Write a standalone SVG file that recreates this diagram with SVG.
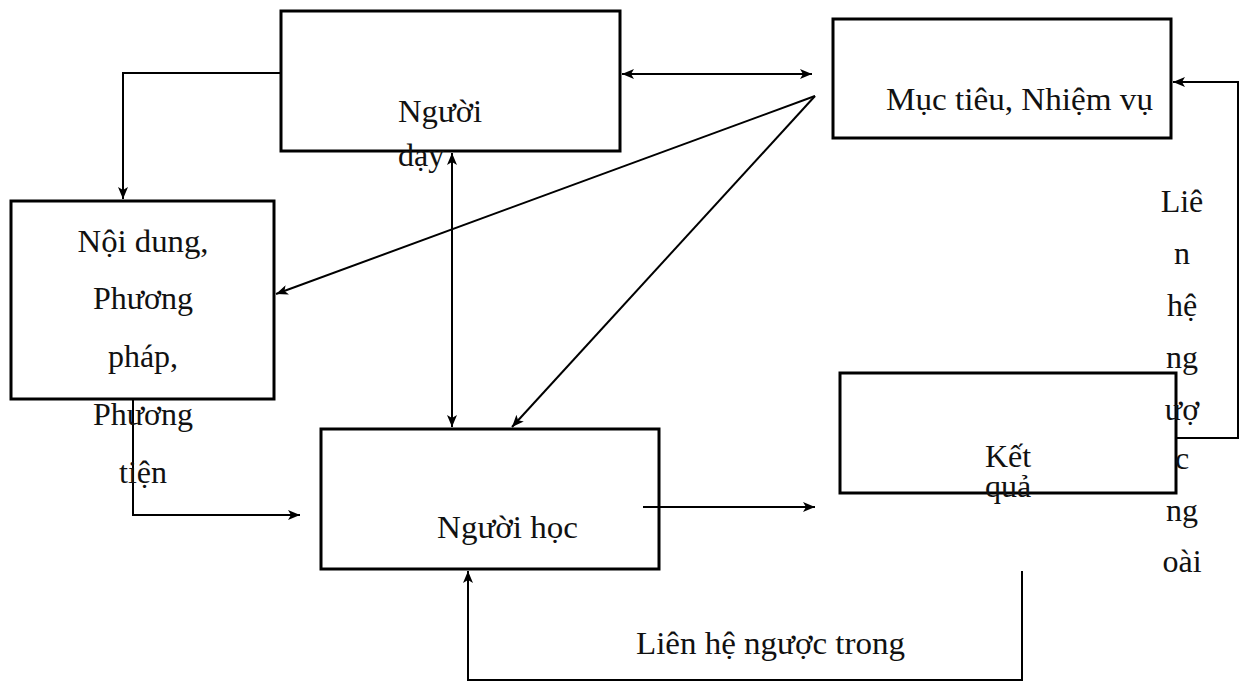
<svg xmlns="http://www.w3.org/2000/svg" width="1239" height="682" viewBox="0 0 1239 682">
<defs>
<marker id="ah" viewBox="0 0 12 10" refX="12" refY="5" markerWidth="12" markerHeight="10" markerUnits="userSpaceOnUse" orient="auto-start-reverse">
<path d="M0,0 L12,5 L0,10 L3,5 Z" fill="#000"/>
</marker>
</defs>
<style>
.box{fill:#fff;stroke:#000;stroke-width:3}
.c{fill:none;stroke:#000;stroke-width:2}
text{font-family:"Liberation Serif","Times New Roman",serif;font-size:32px;fill:#111}
</style>
<rect width="1239" height="682" fill="#fff"/>
<g id="nguoi-day">
<rect class="box" x="281" y="11" width="339" height="140"/>
</g>
<g id="muc-tieu">
<rect class="box" x="833" y="19" width="338" height="119"/>
<text x="886" y="110" textLength="267" lengthAdjust="spacingAndGlyphs">Mục tiêu, Nhiệm vụ</text>
</g>
<g id="noi-dung">
<rect class="box" x="11" y="201" width="263" height="198"/>
</g>
<g id="nguoi-hoc">
<rect class="box" x="321" y="429" width="338" height="140"/>
<text x="437" y="538" textLength="141" lengthAdjust="spacingAndGlyphs">Người học</text>
</g>
<g id="ket-qua">
<rect class="box" x="840" y="373" width="336" height="120"/>
</g>
<g id="connectors">
<path class="c" d="M281,73 H123 V199" marker-end="url(#ah)"/>
<line class="c" x1="622" y1="74" x2="812" y2="74" marker-start="url(#ah)" marker-end="url(#ah)"/>
<line class="c" x1="815" y1="96" x2="276" y2="294" marker-end="url(#ah)"/>
<line class="c" x1="815" y1="96" x2="512" y2="427" marker-end="url(#ah)"/>
<line class="c" x1="452" y1="153" x2="452" y2="427" marker-start="url(#ah)" marker-end="url(#ah)"/>
<path class="c" d="M133,399 V515 H300" marker-end="url(#ah)"/>
<line class="c" x1="643" y1="507" x2="815" y2="507" marker-end="url(#ah)"/>
<path class="c" d="M1022,571 V680 H468 V571" marker-end="url(#ah)"/>
<path class="c" d="M1176,438 H1238 V82 H1173" marker-end="url(#ah)"/>
</g>
<g id="labels">
<text x="398" y="122" textLength="84" lengthAdjust="spacingAndGlyphs">Người</text>
<text x="398" y="166">dạy</text>
<g text-anchor="middle">
<text x="143" y="252" textLength="131" lengthAdjust="spacingAndGlyphs">Nội dung,</text>
<text x="143" y="309">Phương</text>
<text x="143" y="367">pháp,</text>
<text x="143" y="425">Phương</text>
<text x="143" y="483">tiện</text>
<text x="1008" y="467">Kết</text>
<text x="1008" y="497">quả</text>
<text x="1182" y="212">Liê</text>
<text x="1182" y="264">n</text>
<text x="1182" y="316">hệ</text>
<text x="1182" y="368">ng</text>
<text x="1182" y="420">ượ</text>
<text x="1182" y="469">c</text>
<text x="1182" y="521">ng</text>
<text x="1182" y="572">oài</text>
</g>
<text x="636" y="654" textLength="269" lengthAdjust="spacingAndGlyphs">Liên hệ ngược trong</text>
</g>
</svg>
